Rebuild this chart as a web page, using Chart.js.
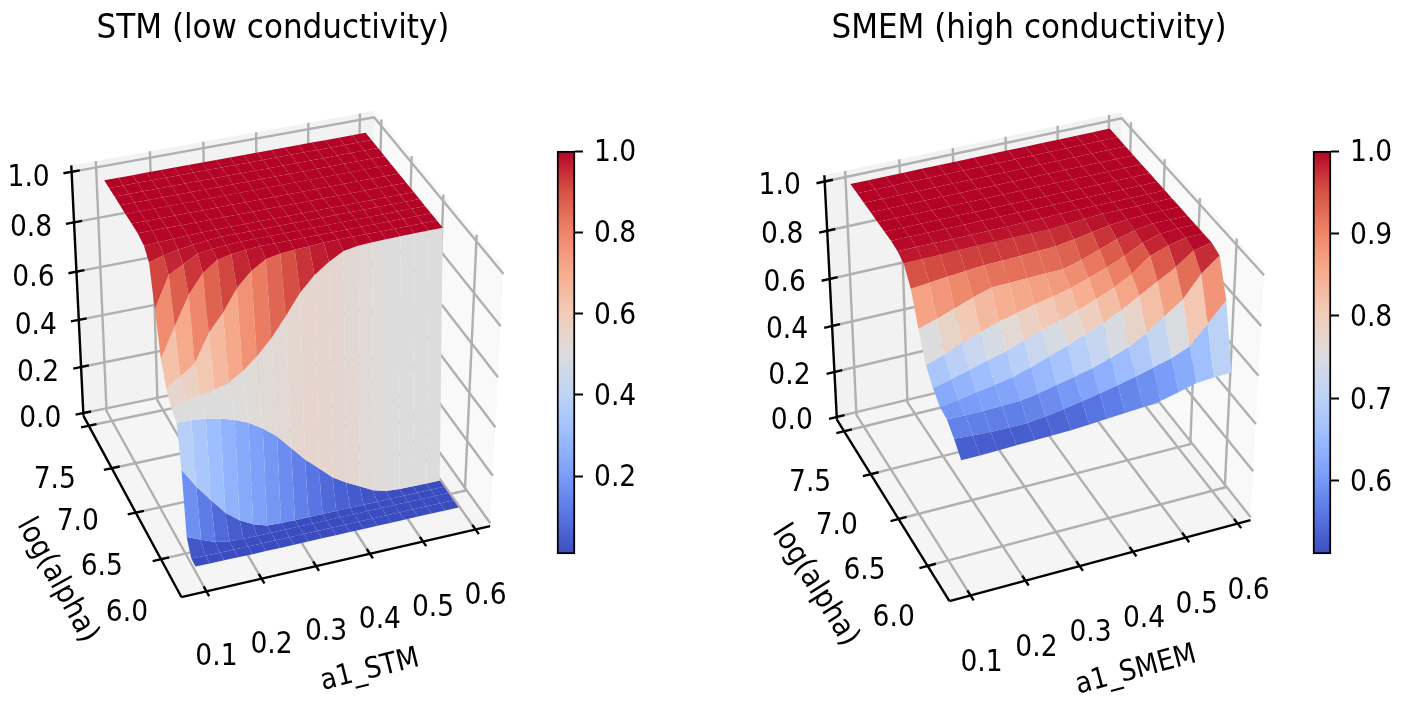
<!DOCTYPE html>
<html>
<head>
<meta charset="utf-8">
<title>STM / SMEM</title>
<script src="https://cdn.jsdelivr.net/npm/chart.js@4"></script>
<style>
  html, body { margin: 0; padding: 0; background: #fff; }
  canvas { position: absolute; top: 0; }
</style>
</head>
<body>
<canvas id="stmPanel" width="545" height="701" style="left:0"></canvas>
<canvas id="stmBar" width="160" height="701" style="left:540px"></canvas>
<canvas id="smemPanel" width="590" height="701" style="left:705px"></canvas>
<canvas id="smemBar" width="115" height="701" style="left:1296px"></canvas>
<script>
// Values
const xTicks = [0.1, 0.2, 0.3, 0.4, 0.5, 0.6]
const yTicks = [6.0, 6.5, 7.0, 7.5]
const zTicks = [0.0, 0.2, 0.4, 0.6, 0.8, 1.0]
const stmBarTicks = [0.2, 0.4, 0.6, 0.8, 1.0]
const smemBarTicks = [0.6, 0.7, 0.8, 0.9, 1.0]

const stmA1 = [0.100, 0.126, 0.152, 0.178, 0.204, 0.229, 0.255, 0.281, 0.307, 0.333, 0.359, 0.385, 0.411, 0.437, 0.463, 0.488, 0.514, 0.540, 0.566, 0.592]
const stmLogAlpha = [5.81, 5.89, 5.97, 6.04, 6.11, 6.21, 6.30, 6.39, 6.48, 6.57, 6.66, 6.78, 6.90, 7.02, 7.13, 7.24, 7.35, 7.45]
const stmValues = [
  [.010, .009, .009, .008, .008, .008, .008, .008, .008, .008, .008, .008, .008, .008, .008, .008, .008, .008, .008, .008],
  [.012, .010, .009, .009, .008, .008, .008, .008, .008, .008, .008, .008, .008, .008, .008, .008, .008, .008, .008, .008],
  [.070, .045, .022, .012, .009, .008, .008, .008, .008, .008, .008, .008, .008, .008, .008, .008, .008, .008, .008, .008],
  [.320, .240, .170, .105, .060, .030, .012, .009, .008, .008, .008, .008, .008, .008, .008, .008, .008, .008, .008, .008],
  [.484, .484, .477, .464, .447, .424, .389, .344, .284, .224, .174, .124, .089, .060, .030, .014, .010, .009, .008, .008],
  [.508, .522, .534, .544, .562, .594, .643, .702, .776, .857, .915, .955, .985, .994, .997, .998, .999, 1.00, 1.00, 1.00],
  [.555, .590, .631, .738, .805, .889, .945, .979, .990, .993, .996, 1.00, 1.00, 1.00, 1.00, 1.00, 1.00, 1.00, 1.00, 1.00],
  [.641, .755, .867, .940, .980, .990, .996, 1.00, 1.00, 1.00, 1.00, 1.00, 1.00, 1.00, 1.00, 1.00, 1.00, 1.00, 1.00, 1.00],
  [.805, .925, .955, .985, .992, .996, 1.00, 1.00, 1.00, 1.00, 1.00, 1.00, 1.00, 1.00, 1.00, 1.00, 1.00, 1.00, 1.00, 1.00],
  [.955, .972, .982, .991, .996, 1.00, 1.00, 1.00, 1.00, 1.00, 1.00, 1.00, 1.00, 1.00, 1.00, 1.00, 1.00, 1.00, 1.00, 1.00],
  [.990, .993, .996, .998, 1.00, 1.00, 1.00, 1.00, 1.00, 1.00, 1.00, 1.00, 1.00, 1.00, 1.00, 1.00, 1.00, 1.00, 1.00, 1.00],
  [1.00, 1.00, 1.00, 1.00, 1.00, 1.00, 1.00, 1.00, 1.00, 1.00, 1.00, 1.00, 1.00, 1.00, 1.00, 1.00, 1.00, 1.00, 1.00, 1.00],
  [1.00, 1.00, 1.00, 1.00, 1.00, 1.00, 1.00, 1.00, 1.00, 1.00, 1.00, 1.00, 1.00, 1.00, 1.00, 1.00, 1.00, 1.00, 1.00, 1.00],
  [1.00, 1.00, 1.00, 1.00, 1.00, 1.00, 1.00, 1.00, 1.00, 1.00, 1.00, 1.00, 1.00, 1.00, 1.00, 1.00, 1.00, 1.00, 1.00, 1.00],
  [1.00, 1.00, 1.00, 1.00, 1.00, 1.00, 1.00, 1.00, 1.00, 1.00, 1.00, 1.00, 1.00, 1.00, 1.00, 1.00, 1.00, 1.00, 1.00, 1.00],
  [1.00, 1.00, 1.00, 1.00, 1.00, 1.00, 1.00, 1.00, 1.00, 1.00, 1.00, 1.00, 1.00, 1.00, 1.00, 1.00, 1.00, 1.00, 1.00, 1.00],
  [1.00, 1.00, 1.00, 1.00, 1.00, 1.00, 1.00, 1.00, 1.00, 1.00, 1.00, 1.00, 1.00, 1.00, 1.00, 1.00, 1.00, 1.00, 1.00, 1.00],
  [1.00, 1.00, 1.00, 1.00, 1.00, 1.00, 1.00, 1.00, 1.00, 1.00, 1.00, 1.00, 1.00, 1.00, 1.00, 1.00, 1.00, 1.00, 1.00, 1.00],
]

const smemA1 = [0.100, 0.133, 0.165, 0.198, 0.231, 0.263, 0.296, 0.329, 0.361, 0.394, 0.427, 0.459, 0.492, 0.525, 0.557, 0.590]
const smemLogAlpha = [5.75, 5.86, 5.97, 6.08, 6.19, 6.30, 6.41, 6.52, 6.63, 6.73, 6.84, 6.95, 7.07, 7.19, 7.31, 7.43, 7.55]
const smemValues = [
  [.510, .510, .512, .514, .516, .518, .520, .524, .530, .535, .540, .548, .565, .585, .590, .592],
  [.555, .550, .545, .545, .545, .553, .565, .578, .592, .608, .625, .645, .665, .695, .770, .845],
  [.592, .590, .590, .592, .594, .606, .622, .638, .655, .678, .705, .745, .795, .845, .930, .985],
  [.600, .612, .625, .637, .650, .672, .698, .725, .752, .780, .815, .855, .895, .935, .985, 1.00],
  [.637, .655, .675, .695, .715, .740, .765, .788, .810, .838, .868, .905, .960, .985, 1.00, 1.00],
  [.690, .715, .745, .770, .795, .812, .830, .845, .861, .885, .910, .940, .975, .995, 1.00, 1.00],
  [.797, .820, .845, .870, .893, .895, .897, .899, .900, .920, .945, .970, .990, 1.00, 1.00, 1.00],
  [.918, .925, .932, .938, .944, .946, .948, .952, .955, .965, .978, .990, .997, 1.00, 1.00, 1.00],
  [.980, .981, .982, .984, .985, .985, .985, .985, .985, .990, .995, 1.00, 1.00, 1.00, 1.00, 1.00],
  [.995, .995, .995, .995, .995, .996, .996, .997, .998, 1.00, 1.00, 1.00, 1.00, 1.00, 1.00, 1.00],
  [1.00, 1.00, 1.00, 1.00, 1.00, 1.00, 1.00, 1.00, 1.00, 1.00, 1.00, 1.00, 1.00, 1.00, 1.00, 1.00],
  [1.00, 1.00, 1.00, 1.00, 1.00, 1.00, 1.00, 1.00, 1.00, 1.00, 1.00, 1.00, 1.00, 1.00, 1.00, 1.00],
  [1.00, 1.00, 1.00, 1.00, 1.00, 1.00, 1.00, 1.00, 1.00, 1.00, 1.00, 1.00, 1.00, 1.00, 1.00, 1.00],
  [1.00, 1.00, 1.00, 1.00, 1.00, 1.00, 1.00, 1.00, 1.00, 1.00, 1.00, 1.00, 1.00, 1.00, 1.00, 1.00],
  [1.00, 1.00, 1.00, 1.00, 1.00, 1.00, 1.00, 1.00, 1.00, 1.00, 1.00, 1.00, 1.00, 1.00, 1.00, 1.00],
  [1.00, 1.00, 1.00, 1.00, 1.00, 1.00, 1.00, 1.00, 1.00, 1.00, 1.00, 1.00, 1.00, 1.00, 1.00, 1.00],
  [1.00, 1.00, 1.00, 1.00, 1.00, 1.00, 1.00, 1.00, 1.00, 1.00, 1.00, 1.00, 1.00, 1.00, 1.00, 1.00],
]

const coolwarm = ["#3b4cc0", "#5977e3", "#7b9ff9", "#9ebeff", "#c0d4f5", "#dddcdc", "#f2cbb7", "#f7ac8e", "#ee8468", "#d65244", "#b40426"]
const FONT = '"DejaVu Sans Condensed", "DejaVu Sans", sans-serif'
const GRID = "#b0b0b0"

function hexToRgb(hex) {
  return [1, 3, 5].map((i) => parseInt(hex.slice(i, i + 2), 16))
}

function colorFor(t) {
  const p = Math.min(Math.max(t, 0), 1) * 10
  const i = Math.min(Math.floor(p), 9)
  const a = hexToRgb(coolwarm[i])
  const b = hexToRgb(coolwarm[i + 1])
  const c = a.map((v, k) => Math.round(v + (b[k] - v) * (p - i)))
  return `rgb(${c[0]},${c[1]},${c[2]})`
}

const dot = (a, b) => a[0] * b[0] + a[1] * b[1] + a[2] * b[2]

// camera in the same spirit as a 3D axes: elevation, azimuth and a far eye
function makeProjection(v) {
  const e = (v.elev * Math.PI) / 180
  const a = (v.azim * Math.PI) / 180
  const n = [Math.cos(e) * Math.cos(a), Math.cos(e) * Math.sin(a), Math.sin(e)]
  const r = [-Math.sin(a), Math.cos(a), 0]
  const u = [-Math.sin(e) * Math.cos(a), -Math.sin(e) * Math.sin(a), Math.cos(e)]
  return (x, y, z) => {
    const p = [
      ((x - v.xLim[0]) / (v.xLim[1] - v.xLim[0]) - 0.5) * v.box[0],
      ((y - v.yLim[0]) / (v.yLim[1] - v.yLim[0]) - 0.5) * v.box[1],
      ((z - v.zLim[0]) / (v.zLim[1] - v.zLim[0]) - 0.5) * v.box[2],
    ]
    const w = v.dist / (v.dist - dot(p, n))
    return { x: v.cx + dot(p, r) * w, y: v.cy - dot(p, u) * w, depth: dot(p, n) }
  }
}

function polyline(points, color, width) {
  return { data: points, showLine: true, fill: false, borderColor: color, borderWidth: width, pointRadius: 0, tension: 0 }
}

function polygon(points, color) {
  const closed = points.concat([points[0]])
  return { data: closed, showLine: true, fill: "shape", backgroundColor: color, borderWidth: 0, borderColor: "transparent", pointRadius: 0, tension: 0 }
}

function surfaceDatasets(cfg, project) {
  const quads = []
  const zs = cfg.values.flat()
  const lo = Math.min(...zs)
  const hi = Math.max(...zs)
  for (let i = 0; i < cfg.ys.length - 1; i++) {
    for (let j = 0; j < cfg.xs.length - 1; j++) {
      const corners = [[i, j], [i, j + 1], [i + 1, j + 1], [i + 1, j]]
      const pts = corners.map(([a, b]) => project(cfg.xs[b], cfg.ys[a], cfg.values[a][b]))
      const mean = corners.reduce((s, [a, b]) => s + cfg.values[a][b], 0) / 4
      const depth = pts.reduce((s, p) => s + p.depth, 0) / 4
      quads.push({ depth, set: polygon(pts, colorFor((mean - lo) / (hi - lo))) })
    }
  }
  // chart.js paints the first dataset last, so nearest goes first
  return quads.sort((a, b) => b.depth - a.depth).map((q) => q.set)
}

function boxDatasets(cfg, project) {
  const [x0, x1] = cfg.view.xLim
  const [y0, y1] = cfg.view.yLim
  const [z0, z1] = cfg.view.zLim
  const sets = []

  // axis lines and ticks on top of the panes
  sets.push(polyline([project(x0, y0, z0), project(x1, y0, z0)], "#000", 2.4))
  sets.push(polyline([project(x0, y0, z0), project(x0, y1, z0)], "#000", 2.4))
  sets.push(polyline([project(x0, y1, z0), project(x0, y1, z1)], "#000", 2.4))
  xTicks.forEach((t) => sets.push(polyline([project(t, y0 - 0.05, z0), project(t, y0 + 0.05, z0)], "#000", 2.4)))
  yTicks.forEach((t) => sets.push(polyline([project(x0 - 0.015, t, z0), project(x0 + 0.015, t, z0)], "#000", 2.4)))
  zTicks.forEach((t) => sets.push(polyline([project(x0 - 0.015, y1, t), project(x0 + 0.015, y1, t)], "#000", 2.4)))

  xTicks.forEach((t) => sets.push(polyline([project(t, y0, z0), project(t, y1, z0), project(t, y1, z1)], GRID, 2.4)))
  yTicks.forEach((t) => sets.push(polyline([project(x0, t, z0), project(x1, t, z0), project(x1, t, z1)], GRID, 2.4)))
  zTicks.forEach((t) => sets.push(polyline([project(x0, y1, t), project(x1, y1, t), project(x1, y0, t)], GRID, 2.4)))

  sets.push(polygon([project(x0, y0, z0), project(x1, y0, z0), project(x1, y1, z0), project(x0, y1, z0)], "#f5f5f5"))
  sets.push(polygon([project(x0, y1, z0), project(x1, y1, z0), project(x1, y1, z1), project(x0, y1, z1)], "#f2f2f2"))
  sets.push(polygon([project(x1, y0, z0), project(x1, y1, z0), project(x1, y1, z1), project(x1, y0, z1)], "#f9f9f9"))
  return sets
}

function panelLabels(cfg, project) {
  const [x0] = cfg.view.xLim
  const [y0, y1] = cfg.view.yLim
  const [z0] = cfg.view.zLim
  const labels = []
  xTicks.forEach((t) => {
    const p = project(t, y0, z0)
    labels.push({ text: t.toFixed(1), x: p.x + cfg.xOff[0], y: p.y + cfg.xOff[1], size: 29.5 })
  })
  yTicks.forEach((t) => {
    const p = project(x0, t, z0)
    labels.push({ text: t.toFixed(1), x: p.x + cfg.yOff[0], y: p.y + cfg.yOff[1], size: 29.5 })
  })
  zTicks.forEach((t) => {
    const p = project(x0, y1, t)
    labels.push({ text: t.toFixed(1), x: p.x + cfg.zOff[0], y: p.y + cfg.zOff[1], size: 29.5 })
  })
  labels.push(cfg.xLabel, cfg.yLabel, cfg.title)
  return labels
}

const panelText = {
  id: "panelText",
  afterDraw(chart, args, opts) {
    const ctx = chart.ctx
    const left = chart.scales.x.min
    ctx.save()
    ctx.fillStyle = "#000"
    ctx.textAlign = "center"
    ctx.textBaseline = "middle"
    opts.labels.forEach((l) => {
      ctx.save()
      ctx.translate(l.x - left, l.y + 2.5)
      ctx.rotate(((l.rot || 0) * Math.PI) / 180)
      ctx.font = `${l.size}px ${FONT}`
      ctx.fillText(l.text, 0, 0)
      ctx.restore()
    })
    ctx.restore()
  },
}

function drawPanel(canvasId, left, cfg) {
  const project = makeProjection(cfg.view)
  const canvas = document.getElementById(canvasId)
  const datasets = surfaceDatasets(cfg, project).concat(boxDatasets(cfg, project))
  new Chart(canvas, {
    type: "scatter",
    data: { datasets },
    plugins: [panelText],
    options: {
      responsive: false,
      animation: false,
      events: [],
      layout: { padding: 0 },
      clip: false,
      plugins: { legend: { display: false }, tooltip: { enabled: false }, panelText: { labels: panelLabels(cfg, project) } },
      scales: {
        x: { type: "linear", display: false, min: left, max: left + canvas.width },
        y: { type: "linear", display: false, min: 0, max: 701, reverse: true },
      },
    },
  })
}

function drawColorbar(canvasId, cfg) {
  new Chart(document.getElementById(canvasId), {
    type: "bar",
    data: {
      labels: [""],
      datasets: [
        {
          data: [[cfg.min, 1]],
          borderColor: "#000",
          borderWidth: 2,
          borderSkipped: false,
          clip: false,
          categoryPercentage: 1,
          barPercentage: 1,
          backgroundColor: (c) => {
            const area = c.chart.chartArea
            if (!area) return coolwarm[5]
            const g = c.chart.ctx.createLinearGradient(0, area.bottom, 0, area.top)
            coolwarm.forEach((col, i) => g.addColorStop(i / 10, col))
            return g
          },
        },
      ],
    },
    options: {
      responsive: false,
      animation: false,
      events: [],
      layout: { padding: { top: 151, bottom: 147, left: 17, right: 0 } },
      plugins: { legend: { display: false }, tooltip: { enabled: false } },
      scales: {
        x: { display: false },
        y: {
          position: "right",
          min: cfg.min,
          max: 1,
          border: { display: false },
          grid: { drawOnChartArea: false, drawTicks: true, tickLength: 8, tickColor: "#000", tickWidth: 2 },
          afterBuildTicks: (s) => { s.ticks = cfg.ticks.map((v) => ({ value: v })) },
          afterFit: (s) => { s.width = cfg.axisWidth },
          ticks: { color: "#000", padding: 11, labelOffset: 2.5, font: { family: FONT, size: 29.5 }, callback: (v) => v.toFixed(1) },
        },
      },
    },
  })
}

drawPanel("stmPanel", 0, {
  xs: stmA1,
  ys: stmLogAlpha,
  values: stmValues,
  view: { elev: 33.5, azim: -110.3, dist: 2740, box: [326, 326, 305], cx: 281, cy: 346, xLim: [0.055, 0.628], yLim: [5.61, 7.62], zLim: [-0.012, 1.025] },
  xOff: [10, 64],
  yOff: [-34, 52],
  zOff: [-43, 4],
  xLabel: { text: "a1_STM", x: 370, y: 668, rot: -14, size: 29 },
  yLabel: { text: "log(alpha)", x: 57, y: 578, rot: 61, size: 30 },
  title: { text: "STM (low conductivity)", x: 273, y: 27, size: 34.5 },
})

drawPanel("smemPanel", 705, {
  xs: smemA1,
  ys: smemLogAlpha,
  values: smemValues,
  view: { elev: 34.4, azim: -113, dist: 2740, box: [325, 325, 300], cx: 1038.5, cy: 348.5, xLim: [0.062, 0.625], yLim: [5.64, 7.64], zLim: [-0.012, 1.025] },
  xOff: [11, 65],
  yOff: [-34, 50],
  zOff: [-45, 2],
  xLabel: { text: "a1_SMEM", x: 1136, y: 668, rot: -15, size: 29 },
  yLabel: { text: "log(alpha)", x: 815, y: 583, rot: 58, size: 30 },
  title: { text: "SMEM (high conductivity)", x: 1029, y: 27, size: 34.5 },
})

drawColorbar("stmBar", { min: 0.008, ticks: stmBarTicks, axisWidth: 125 })
drawColorbar("smemBar", { min: 0.5115, ticks: smemBarTicks, axisWidth: 80 })
</script>
</body>
</html>
